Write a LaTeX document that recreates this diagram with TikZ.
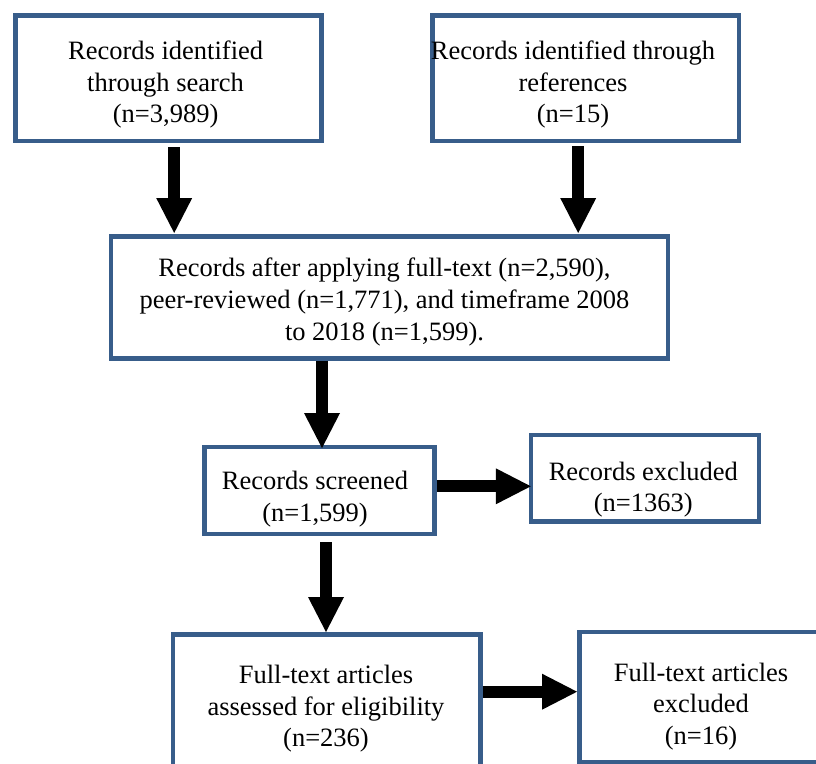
\documentclass[tikz,border=0pt]{standalone}
\usepackage{fontspec}
\setmainfont{Liberation Serif}
\usetikzlibrary{arrows.meta}
\definecolor{boxblue}{HTML}{385D8A}
\newcommand\mytopstrut{\rule{0pt}{20pt}}
\newcommand\mybotstrut{\rule[-7pt]{0pt}{7pt}}
\begin{document}
\begin{tikzpicture}[x=1pt,y=-1pt,
  box/.style={draw=boxblue,line width=4.6pt,rectangle,inner sep=0pt,outer sep=0pt},
  txt/.style={align=center,inner sep=0pt,outer sep=0pt,font=\fontsize{26.5}{31.7}\selectfont},
  fat/.style={draw=black,line width=12pt,-{Triangle[length=35pt,width=36pt,line width=0pt]}}]
\useasboundingbox (0,0) rectangle (816,763);
\fill[white] (0,0) rectangle (816,763);
\clip (0,0) rectangle (816,763);
% boxes
\node[box,minimum width=306.2pt,minimum height=125.5pt] (b1) at (168.6,78.25) {};
\node[box,minimum width=306.7pt,minimum height=125.5pt] (b2) at (585.7,78.25) {};
\node[box,minimum width=557.2pt,minimum height=121.6pt] (b3) at (389.4,297.5) {};
\node[box,minimum width=230pt,minimum height=87pt] (b4) at (319.3,490.5) {};
\node[box,minimum width=228pt,minimum height=86.7pt] (b5) at (644.8,478.35) {};
\node[box,minimum width=307.3pt,minimum height=145.3pt] (b6) at (326.65,707.35) {};
\node[box,minimum width=246.8pt,minimum height=130.7pt] (b7) at (702.6,697.15) {};
% texts
\node[txt] (t1) at (165.6,84.5) {\mytopstrut Records identified\\through search\\(n=3,989)\mybotstrut};
\node[txt] (t2) at (573,84.5) {\mytopstrut Records identified through\\references\\(n=15)\mybotstrut};
\node[txt] (t3) at (384.5,301.9) {\mytopstrut Records after applying full-text (n=2,590),\\peer-reviewed (n=1,771), and timeframe 2008\\to 2018 (n=1,599).\mybotstrut};
\node[txt] (t4) at (315,499) {\mytopstrut Records screened\\(n=1,599)\mybotstrut};
\node[txt] (t5) at (643.3,489.35) {\mytopstrut Records excluded\\(n=1363)\mybotstrut};
\node[txt] (t6) at (326,708.5) {\mytopstrut Full-text articles\\assessed for eligibility\\(n=236)\mybotstrut};
\node[txt] (t7) at (701,706.2) {\mytopstrut Full-text articles\\excluded\\(n=16)\mybotstrut};
% arrows
\coordinate (a1) at ([xshift=5.6pt]b1.south);
\draw[fat,shorten <=6pt,shorten >=3.7pt] (a1) -- (a1 |- b3.north);
\coordinate (a2) at ([xshift=-7.5pt]b2.south);
\draw[fat,shorten <=5pt,shorten >=3.7pt] (a2) -- (a2 |- b3.north);
\coordinate (a3) at ([xshift=-67.4pt]b3.south);
\draw[fat,shorten <=2.3pt,shorten >=-1pt] (a3) -- (a3 |- b4.north);
\coordinate (a4) at ([yshift=4.2pt]b4.east);
\draw[fat,shorten <=2.3pt] (a4) -- (a4 -| b5.west);
\coordinate (a5) at ([xshift=6.7pt]b4.south);
\draw[fat,shorten <=8pt,shorten >=2.7pt] (a5) -- (a5 |- b6.north);
\coordinate (a6) at ([yshift=15.65pt]b6.east);
\draw[fat,shorten <=2.3pt,shorten >=2.2pt] (a6) -- (a6 -| b7.west);
\end{tikzpicture}
\end{document}
